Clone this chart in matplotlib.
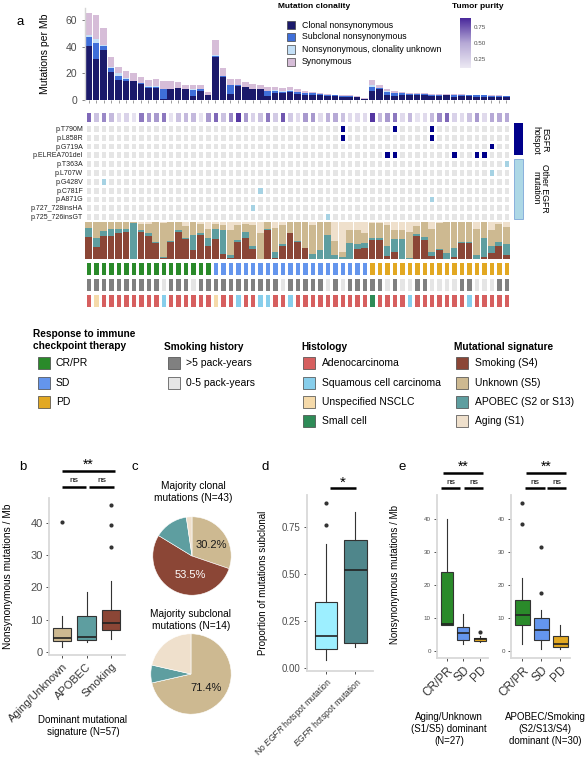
import numpy as np
import matplotlib
matplotlib.use("Agg")
import matplotlib.pyplot as plt
from matplotlib.colors import ListedColormap, LinearSegmentedColormap
from matplotlib.patches import Rectangle
from matplotlib.lines import Line2D

plt.rcParams['font.family'] = ['Liberation Sans', 'DejaVu Sans']
plt.rcParams['mathtext.fontset'] = 'custom'
plt.rcParams['mathtext.it'] = 'Liberation Sans:italic'
plt.rcParams['mathtext.rm'] = 'Liberation Sans'

# ---- panel a data (57 samples, ordered CR/PR, SD, PD) ----
clonal = [40.5, 31, 37.5, 21, 15, 14.5, 14, 12, 9, 9, 1, 8, 9, 8, 3, 7, 4,
          32, 17, 4.5, 10.5, 9.5, 8, 8, 3, 5, 5, 6, 4.5, 3.5, 4, 3.5, 3, 3, 2.5, 2.5, 2.5, 1,
          7, 8, 3.5, 3, 3.5, 4, 3.5, 3.5, 3, 3, 3.5, 2.5, 3, 3, 2.5, 2.5, 2.5, 2, 2]
subclonal = [6.5, 12, 3, 3, 3, 1.5, 0.5, 0.5, 1, 1, 7, 0.5, 0, 0, 4.5, 1, 0,
             1, 1, 6.5, 0.5, 0.5, 0.5, 0, 3.5, 2, 1, 1, 1.5, 2, 1, 1, 1, 0.5, 0.5, 0.5, 0, 0,
             3, 1, 2.5, 2, 1.5, 0.5, 1, 1, 1, 1, 0.5, 1.5, 1, 0.5, 1, 1, 0.5, 1, 1]
unknown = [1.5, 2.5, 0.5, 0.5, 2, 0.5, 0, 0, 0.5, 0.5, 0.5, 0, 0, 0, 1, 0, 0,
           0.5, 0, 0.5, 0, 0, 0, 0, 0.5, 0.5, 0.5, 0.5, 0, 0, 0, 0, 0, 0, 0, 0, 0, 0,
           1, 0, 0.5, 0.5, 0, 0, 0, 0, 0, 0, 0, 0, 0, 0, 0, 0, 0, 0, 0]
synonymous = [17, 18, 13, 7.5, 5, 5.5, 5.5, 5, 4.5, 5.5, 5.5, 5.5, 4.5, 3, 2.5, 3, 2,
              11.5, 6, 4.5, 5, 3.5, 3.5, 3, 3, 2.5, 2.5, 2.5, 2, 1.5, 1, 0.5, 0.5, 0.5, 0.5, 0.5, 0.5, 0.5,
              4, 2.5, 1.5, 1.5, 1, 1, 1, 0.5, 0.5, 0.5, 0.5, 0.5, 0.5, 0.5, 0.5, 0.5, 0.5, 0.5, 0.3]
purity = [0.7, 0.35, 0.6, 0.4, 0.2, 0.25, 0.15, 0.65, 0.55, 0.55, 0.65, 0.15, 0.35, 0.4, 0.4, 0.15, 0.55,
          0.7, 0.35, 0.6, 0.85, 0.55, 0.25, 0.35, 0.65, 0.3, 0.75, 0.3, 0.2, 0.55, 0.55, 0.2, 0.45, 0.5,
          0.35, 0.2, 0.2, 0.2, 0.85, 0.4, 0.55, 0.65, 0.2, 0.4, 0.15, 0.2, 0.4, 0.6, 0.7, 0.25, 0.2,
          0.35, 0.55, 0.2, 0.5, 0.5, 0.5]
mut_rows = ["p.T790M", "p.L858R", "p.G719A", "p.ELREA701del", "p.T363A", "p.L707W", "p.G428V",
            "p.C781F", "p.A871G", "p.727_728insHA", "p.725_726insGT"]
hotspot_rows = 4
mut_hits = {"p.T790M": [34, 41, 46], "p.L858R": [34, 46], "p.G719A": [54],
            "p.ELREA701del": [40, 41, 49, 52, 53], "p.T363A": [56], "p.L707W": [54],
            "p.G428V": [2], "p.C781F": [23], "p.A871G": [46], "p.727_728insHA": [22],
            "p.725_726insGT": [32]}
sig_smoking = [.60, .32, .62, .62, .71, .73, 0, .73, .62, .44, .02, .47, .73, .53, .25, .65, .34,
               .53, .14, .03, .47, .56, .27, 0, .78, .02, .35, .69, .47, .29, 0, 0, 0, 0, 0, 0, .27, .29,
               .51, .51, .09, .18, 0, 0, .62, .51, .09, .25, 0, .05, .44, .44, 0, .05, .16, .35, .12]
sig_apobec = [.25, .24, .14, .20, .09, .09, .97, .05, .07, .01, .03, .03, .05, .03, .40, .06, .24,
              .29, .64, .09, .04, .17, .07, 0, .02, .18, .05, .01, .01, .01, .13, .25, .65, .12, .05, .44, .13, .13,
              .05, .05, .26, .35, .53, .03, .05, .09, .11, .01, .16, .24, .03, .03, .12, .51, .19, .12, .29]
sig_unknown = [.15, .44, .24, .18, .20, .18, .03, .17, .26, .55, .92, .50, .22, .34, .35, .24, .22,
               .13, .14, .66, .41, .22, .58, .70, .20, .65, .52, .30, .52, .70, .79, .75, .35, .38, .15, .34, .38, .28,
               .41, .41, .57, .25, .25, .71, .23, .40, .62, .71, .84, .71, .53, .53, .70, .44, .43, .48, .46]
sig_aging = [0, 0, 0, 0, 0, 0, 0, .05, .05, 0, .03, 0, 0, .10, 0, .05, .20,
             .05, .08, .22, .08, .05, .08, .30, 0, .15, .08, 0, 0, 0, .08, 0, 0, .50, .80, .22, .22, .30,
             .03, .03, .08, .22, .22, .26, .10, 0, .18, .03, 0, 0, 0, 0, .18, 0, .22, .05, .13]
response = [0] * 17 + [1] * 21 + [2] * 19
smoking_hist = [1] * 10 + [0] + [1] * 3 + [0] + [1] * 11 + [0] + [1] * 5 + [0, 1, 0] + [1] * 5 + \
               [0, 1, 0, 0, 1, 1, 0, 0, 0, 0, 1, 1, 0, 0, 0, 1, 1]
histology = [0] * 57
for i in [10, 20, 23, 24, 27, 43, 51]:
    histology[i] = 1
for i in [1, 17]:
    histology[i] = 2
histology[38] = 3

# ---- bottom panels data ----
b_cats = ["Aging/Unknown", "APOBEC", "Smoking"]
b_med = [4.4, 4.7, 9.0]
b_q1 = [3.2, 3.8, 6.9]
b_q3 = [7.3, 11.2, 13.0]
b_lo = [1.6, 3.0, 4.0]
b_hi = [11.0, 18.5, 22.0]
b_out = [[40.2], [], [45.5, 39.3, 32.5]]

pie1_vals = [13, 23, 6, 1]   # Unknown, Smoking, APOBEC, Aging
pie2_vals = [10, 0, 1, 3]

d_cats = ["No $\\it{EGFR}$ hotspot mutation", "$\\it{EGFR}$ hotspot mutation"]
d_med = [0.17, 0.52]
d_q1 = [0.10, 0.13]
d_q3 = [0.35, 0.68]
d_lo = [0.04, 0.11]
d_hi = [0.66, 0.83]
d_out = [[0.76, 0.88], []]

e_cats = ["CR/PR", "SD", "PD"]
e1_med = [8.3, 5.6, 3.6]
e1_q1 = [8.0, 3.4, 3.1]
e1_q3 = [24.0, 7.4, 4.1]
e1_lo = [8.0, 2.0, 2.6]
e1_hi = [40.0, 11.2, 4.5]
e1_out = [[], [], [5.7]]
e2_med = [11.0, 6.5, 2.0]
e2_q1 = [8.0, 3.5, 1.3]
e2_q3 = [15.5, 10.0, 4.6]
e2_lo = [2.0, 0.6, 0.5]
e2_hi = [22.0, 12.5, 8.0]
e2_out = [[45.0, 38.6], [31.5, 17.5], []]

# ---- colours ----
c_clonal, c_sub, c_unk, c_syn = '#1B1A6B', '#3F6FD9', '#C4E0F7', '#D6BDD8'
c_smk, c_apo, c_unk_sig, c_age = '#8B4636', '#5E9EA0', '#CDB991', '#EFE0CC'
resp_cols = ['#2A8A2A', '#6495ED', '#E2A822']
smk_cols = ['#E5E5E5', '#808080']
hist_cols = ['#D65F5F', '#87CEEB', '#F5DAAA', '#2E8B57']
purity_cmap = LinearSegmentedColormap.from_list('pur', ['#ECE9F3', '#B6A9D6', '#4A2A9C'])

W, H = 587, 760
fig = plt.figure(figsize=(W / 100, H / 100), dpi=100)


def px_axes(x0, y0, x1, y1):
    return fig.add_axes([x0 / W, 1 - y1 / H, (x1 - x0) / W, (y1 - y0) / H])


def ftext(x, y, s, **kw):
    return fig.text(x / W, 1 - y / H, s, **kw)


def fline(x0, x1, y, lw=1.8):
    fig.add_artist(Line2D([x0 / W, x1 / W], [1 - y / H, 1 - y / H], transform=fig.transFigure,
                          color='black', lw=lw, solid_capstyle='butt'))


def fsquare(x, yc, s, color, ec='#444444'):
    fig.add_artist(Rectangle((x / W, 1 - (yc + s / 2) / H), s / W, s / H, transform=fig.transFigure,
                             facecolor=color, edgecolor=ec, lw=0.5))


n = len(clonal)
xs = np.arange(n)

# ---- panel a: bars ----
ftext(20, 22, 'a', fontsize=9.5, va='center', ha='center')
ax = px_axes(85, 8, 510, 100)
bottom = np.zeros(n)
for vals, col in [(clonal, c_clonal), (subclonal, c_sub), (unknown, c_unk), (synonymous, c_syn)]:
    ax.bar(xs, vals, bottom=bottom, width=0.88, color=col, linewidth=0)
    bottom += np.array(vals)
ax.set_xlim(-0.5, n - 0.5)
ax.set_ylim(0, 69)
ax.set_yticks([0, 20, 40, 60])
ax.set_xticks(xs)
ax.set_xticklabels([])
for s in ['top', 'right', 'bottom']:
    ax.spines[s].set_visible(False)
ax.spines['left'].set_color('#D5D5D5')
ax.spines['left'].set_linewidth(1.0)
ax.tick_params(axis='y', labelsize=7.5, colors='#4D4D4D', length=2, width=0.5)
ax.tick_params(axis='x', length=2, width=0.4, colors='#555555')
ax.set_ylabel('Mutations per Mb', fontsize=7.5)
ax.yaxis.set_label_coords((50 - 85) / 425, 0.5)

# clonality legend
ftext(278, 7, 'Mutation clonality', fontsize=6, fontweight='bold', va='center')
for yc, col, lab in [(25, c_clonal, 'Clonal nonsynonymous'), (36.7, c_sub, 'Subclonal nonsynonymous'),
                     (49.5, c_unk, 'Nonsynonymous, clonality unknown'), (62, c_syn, 'Synonymous')]:
    fsquare(287, yc, 8, col)
    ftext(302, yc, lab, fontsize=6.3, va='center')

# purity colourbar
ftext(478, 7, 'Tumor purity', fontsize=6, fontweight='bold', va='center', ha='center')
cax = px_axes(460, 18, 471, 68)
grad = np.linspace(0.11, 0.89, 100).reshape(-1, 1)
cax.imshow(grad, cmap=purity_cmap, aspect='auto', origin='lower', extent=(0, 1, 0.11, 0.89),
           vmin=0.11, vmax=0.89)
cax.set_xticks([])
cax.set_yticks([0.25, 0.5, 0.75])
cax.set_yticklabels(['0.25', '0.50', '0.75'])
cax.yaxis.tick_right()
cax.tick_params(axis='y', labelsize=4.5, colors='#4D4D4D', length=0, pad=2)
for s in cax.spines.values():
    s.set_visible(False)

# purity row
ax = px_axes(85, 111, 510, 123)
ax.pcolormesh(np.arange(n + 1) - 0.5, [0, 1], np.array([purity]), cmap=purity_cmap, vmin=0.11, vmax=0.89,
              edgecolors='white', linewidth=0.9)
ax.set_xlim(-0.5, n - 0.5)
ax.set_axis_off()

# EGFR mutation heatmap
mat = np.zeros((len(mut_rows), n))
for r, name in enumerate(mut_rows):
    for i in mut_hits[name]:
        mat[r, i] = 1 if r < hotspot_rows else 2
ax = px_axes(85, 124, 510, 221)
ax.pcolormesh(np.arange(n + 1) - 0.5, np.arange(len(mut_rows) + 1) - 0.5, mat,
              cmap=ListedColormap(['#E5E5E5', '#00008B', '#A6D2E3']), vmin=-0.5, vmax=2.5,
              edgecolors='white', linewidth=0.9)
ax.set_xlim(-0.5, n - 0.5)
ax.set_ylim(len(mut_rows) - 0.5, -0.5)
ax.set_yticks(range(len(mut_rows)))
ax.set_yticklabels(mut_rows, fontsize=5)
ax.set_xticks([])
ax.tick_params(axis='y', length=0, pad=1.5, colors='#222222')
for s in ax.spines.values():
    s.set_visible(False)

fig.add_artist(Rectangle((514 / W, 1 - 155 / H), 9 / W, 32 / H, transform=fig.transFigure,
                         facecolor='#00008B', edgecolor='none'))
fig.add_artist(Rectangle((514 / W, 1 - 219 / H), 9 / W, 60 / H, transform=fig.transFigure,
                         facecolor='#ADD8E6', edgecolor='#7DA6D8', lw=0.6))
ftext(540, 140, 'EGFR\nhotspot', fontsize=6.3, rotation=270, ha='center', va='center', linespacing=1.0)
ftext(540, 188, 'Other EGFR\nmutation', fontsize=6.3, rotation=270, ha='center', va='center', linespacing=1.0)

# mutational signature proportions
ax = px_axes(85, 222, 510, 259)
bottom = np.zeros(n)
for vals, col in [(sig_smoking, c_smk), (sig_apobec, c_apo), (sig_unknown, c_unk_sig), (sig_aging, c_age)]:
    ax.bar(xs, vals, bottom=bottom, width=0.9, color=col, linewidth=0)
    bottom += np.array(vals)
ax.set_xlim(-0.5, n - 0.5)
ax.set_ylim(0, 1)
ax.set_axis_off()


def cat_row(y0, y1, codes, cols):
    a = px_axes(85, y0, 510, y1)
    a.pcolormesh(np.arange(n + 1) - 0.5, [0, 1], np.array([codes]), cmap=ListedColormap(cols),
                 vmin=-0.5, vmax=len(cols) - 0.5, edgecolors='white', linewidth=1.0)
    a.set_xlim(-0.5, n - 0.5)
    a.set_axis_off()


cat_row(261, 276, response, resp_cols)
cat_row(277, 292, smoking_hist, smk_cols)
cat_row(293, 308, histology, hist_cols)

# ---- annotation legends ----
ftext(33, 340, 'Response to immune\ncheckpoint therapy', fontsize=7.3, fontweight='bold', va='center',
      linespacing=1.15)
rows_y = [363, 383, 402, 421]
for yc, col, lab in zip(rows_y, resp_cols, ['CR/PR', 'SD', 'PD']):
    fsquare(38, yc, 12, col)
    ftext(56, yc, lab, fontsize=7.5, va='center')
ftext(164, 347, 'Smoking history', fontsize=7.3, fontweight='bold', va='center')
for yc, col, lab in zip(rows_y, smk_cols[::-1], ['>5 pack-years', '0-5 pack-years']):
    fsquare(168, yc, 12, col)
    ftext(186, yc, lab, fontsize=7.5, va='center')
ftext(301, 347, 'Histology', fontsize=7.3, fontweight='bold', va='center')
for yc, col, lab in zip(rows_y, hist_cols, ['Adenocarcinoma', 'Squamous cell carcinoma',
                                            'Unspecified NSCLC', 'Small cell']):
    fsquare(303, yc, 12, col)
    ftext(322, yc, lab, fontsize=7.5, va='center')
ftext(454, 347, 'Mutational signature', fontsize=7.3, fontweight='bold', va='center')
for yc, col, lab in zip(rows_y, [c_smk, c_unk_sig, c_apo, c_age],
                        ['Smoking (S4)', 'Unknown (S5)', 'APOBEC (S2 or S13)', 'Aging (S1)']):
    fsquare(456, yc, 12, col)
    ftext(475, yc, lab, fontsize=7.5, va='center')


# ---- box helpers ----
def make_stats(med, q1, q3, lo, hi, out):
    return [dict(med=m, q1=a, q3=b, whislo=l, whishi=h, fliers=o)
            for m, a, b, l, h, o in zip(med, q1, q3, lo, hi, out)]


def draw_box(ax, stats, cols, width):
    bp = ax.bxp(stats, positions=range(1, len(stats) + 1), widths=width, patch_artist=True, showcaps=False,
                boxprops=dict(edgecolor='#333333', linewidth=0.8),
                whiskerprops=dict(color='#333333', linewidth=0.8),
                medianprops=dict(color='#222222', linewidth=1.2),
                flierprops=dict(marker='o', markerfacecolor='#333333', markeredgecolor='none', markersize=3))
    for patch, c in zip(bp['boxes'], cols):
        patch.set_facecolor(c)


def style_ax(ax, lab_size):
    for s in ['top', 'right']:
        ax.spines[s].set_visible(False)
    for s in ['left', 'bottom']:
        ax.spines[s].set_color('#D9D9D9')
        ax.spines[s].set_linewidth(1.3)
    ax.tick_params(axis='both', length=2.5, width=0.6, color='#333333', labelcolor='#4D4D4D',
                   labelsize=lab_size, pad=2)


def sig(x0, x1, y, label, fs, dy):
    fline(x0, x1, y)
    ftext((x0 + x1) / 2, y - dy, label, fontsize=fs, ha='center', va='center')


# ---- panel b ----
ftext(23, 467, 'b', fontsize=9.5, ha='center', va='center')
ax = px_axes(49, 498, 125, 655)
draw_box(ax, make_stats(b_med, b_q1, b_q3, b_lo, b_hi, b_out), [c_unk_sig, c_apo, c_smk], 0.75)
ax.set_xlim(0.47, 3.57)
ax.set_ylim(-1.0, 47.8)
ax.set_yticks([0, 10, 20, 30, 40])
style_ax(ax, 8)
ax.set_xticks([1, 2, 3])
ax.set_xticklabels(b_cats, rotation=45, ha='right', va='top', rotation_mode='anchor', fontsize=8,
                   color='#333333')
ax.set_ylabel('Nonsynonymous mutations / Mb', fontsize=7.3)
ax.yaxis.set_label_coords((13 - 49) / 76, 0.5)
ftext(83, 726, 'Dominant mutational\nsignature (N=57)', fontsize=7, ha='center', va='center',
      linespacing=1.25)
sig(62, 115, 471, '**', 10, 6)
sig(62, 86, 487, 'ns', 6, 6)
sig(89, 114, 487, 'ns', 6, 6)

# ---- panel c ----
ftext(135, 467, 'c', fontsize=9.5, ha='center', va='center')
pie_cols = [c_unk_sig, c_smk, c_apo, c_age]
ftext(193, 492, 'Majority clonal\nmutations (N=43)', fontsize=7.3, ha='center', va='center',
      linespacing=1.15)
ax = px_axes(152, 516, 232, 596)
ax.pie(pie1_vals, colors=pie_cols, startangle=90, counterclock=False,
       wedgeprops=dict(edgecolor='white', linewidth=0.4))
ax.set_xlim(-1.02, 1.02)
ax.set_ylim(-1.02, 1.02)
ftext(211, 545, '30.2%', fontsize=8, ha='center', va='center', color='#1A1A1A')
ftext(190, 575, '53.5%', fontsize=8, ha='center', va='center', color='white')
ftext(191, 620, 'Majority subclonal\nmutations (N=14)', fontsize=7.3, ha='center', va='center',
      linespacing=1.15)
ax = px_axes(150, 633, 232, 715)
ax.pie(pie2_vals, colors=pie_cols, startangle=90, counterclock=False,
       wedgeprops=dict(edgecolor='white', linewidth=0.4))
ax.set_xlim(-1.02, 1.02)
ax.set_ylim(-1.02, 1.02)
ftext(206, 688, '71.4%', fontsize=8, ha='center', va='center', color='#1A1A1A')

# ---- panel d ----
ftext(265, 467, 'd', fontsize=9.5, ha='center', va='center')
ax = px_axes(307, 495, 373, 671)
draw_box(ax, make_stats(d_med, d_q1, d_q3, d_lo, d_hi, d_out), ['#9DEFFF', '#4F868B'], 0.76)
ax.set_xlim(0.35, 2.6)
ax.set_ylim(-0.017, 0.92)
ax.set_yticks([0, 0.25, 0.5, 0.75])
ax.set_yticklabels(['0.00', '0.25', '0.50', '0.75'])
style_ax(ax, 7)
ax.set_xticks([1, 2])
ax.set_xticklabels(d_cats, rotation=45, ha='right', va='top', rotation_mode='anchor', fontsize=6.2,
                   color='#333333')
ax.tick_params(axis='x', pad=1)
ax.set_ylabel('Proportion of mutations subclonal', fontsize=7)
ax.yaxis.set_label_coords((268 - 307) / 66, 0.5)
sig(330, 356, 488, '*', 11, 5)

# ---- panel e ----
ftext(402, 467, 'e', fontsize=9.5, ha='center', va='center')
ftext(395, 575, 'Nonsynonymous mutations / Mb', fontsize=7, rotation=90, ha='center', va='center')
for (x0, x1), st, lab, xc in [((437, 488), make_stats(e1_med, e1_q1, e1_q3, e1_lo, e1_hi, e1_out),
                               'Aging/Unknown\n(S1/S5) dominant\n(N=27)', 449),
                              ((511, 570), make_stats(e2_med, e2_q1, e2_q3, e2_lo, e2_hi, e2_out),
                               'APOBEC/Smoking\n(S2/S13/S4)\ndominant (N=30)', 545)]:
    ax = px_axes(x0, 495, x1, 658)
    draw_box(ax, st, resp_cols, 0.75)
    ax.set_xlim(0.4, 3.5)
    ax.set_ylim(-2.1, 47.3)
    ax.set_yticks([0, 10, 20, 30, 40])
    style_ax(ax, 4.5)
    ax.set_xticks([1, 2, 3])
    ax.set_xticklabels(e_cats, rotation=45, ha='right', va='top', rotation_mode='anchor', fontsize=8.5,
                       color='#333333')
    ftext(xc, 729, lab, fontsize=7, ha='center', va='center', linespacing=1.2)

sig(443, 483, 473, '**', 10, 6)
sig(441, 460, 488, 'ns', 6, 6)
sig(464, 483, 488, 'ns', 6, 6)
sig(526, 566, 473, '**', 10, 6)
sig(525, 545, 488, 'ns', 6, 6)
sig(547, 566, 488, 'ns', 6, 6)

fig.savefig('out.png', dpi=100, facecolor='white')
